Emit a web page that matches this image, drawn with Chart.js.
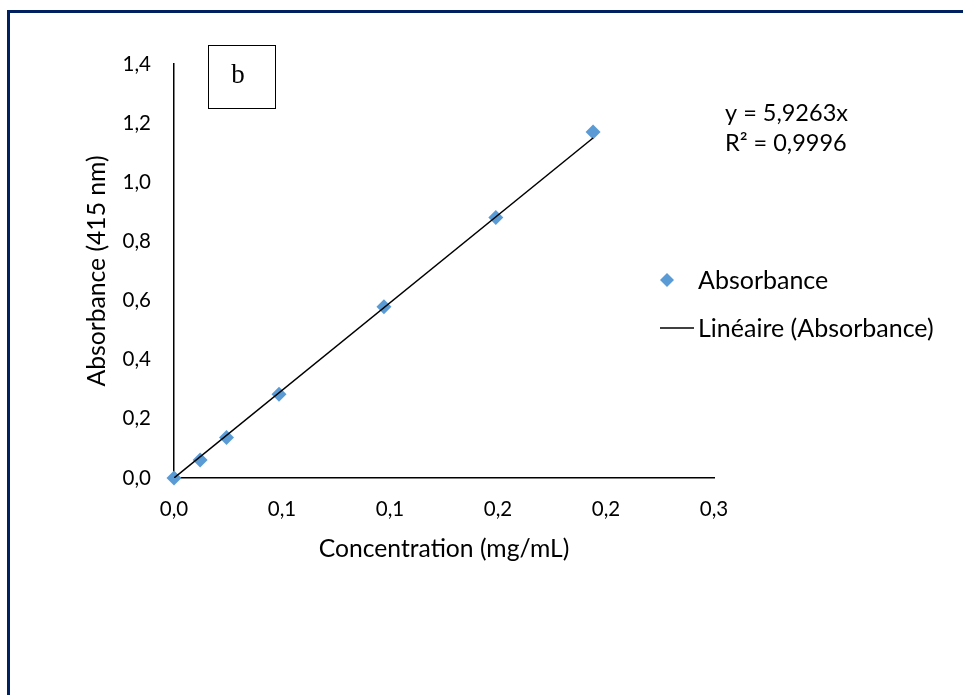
<!DOCTYPE html>
<html>
<head>
<meta charset="utf-8">
<title>Absorbance</title>
<script src="https://cdn.jsdelivr.net/npm/chart.js@4.4.1/dist/chart.umd.min.js"></script>
<style>
  html, body { margin: 0; padding: 0; background: #fff; }
  #wrap { width: 963px; height: 695px; }
</style>
</head>
<body>
<div id="wrap"><canvas id="absChart" width="963" height="695"></canvas></div>
<script>
// data
const concentration = [0, 0.0121, 0.0243, 0.0486, 0.0972, 0.149, 0.194];
const absorbance = [0, 0.061, 0.137, 0.283, 0.579, 0.881, 1.17];
const xTickLabels = ['0,0', '0,1', '0,1', '0,2', '0,2', '0,3'];
const yTickLabels = ['0,0', '0,2', '0,4', '0,6', '0,8', '1,0', '1,2', '1,4'];
const slope = 5.9263;
const rSquared = '0,9996';

const FONT = 'Lato, "Open Sans", sans-serif';
const BLUE = '#5B9BD5';

const points = concentration.map((c, i) => ({x: c, y: absorbance[i]}));
const lastX = concentration[concentration.length - 1];
const trend = [{x: 0, y: 0}, {x: lastX, y: slope * lastX}];

// extras: page frame, "b" box, equation and legend
const overlay = {
    id: 'overlay',
    afterDraw(chart) {
        const ctx = chart.ctx;
        ctx.save();
        // frame (top + left)
        ctx.fillStyle = '#002060';
        ctx.fillRect(7, 10, 963 - 7, 3);
        ctx.fillRect(7, 10, 3, 695 - 10);

        // "b" box
        ctx.strokeStyle = '#000';
        ctx.lineWidth = 1;
        ctx.strokeRect(208.5, 45.5, 67, 63);
        ctx.fillStyle = '#000';
        ctx.font = '27px "Liberation Serif", "DejaVu Serif", serif';
        ctx.textAlign = 'center';
        ctx.textBaseline = 'middle';
        ctx.fillText('b', 238, 76);

        // equation
        ctx.font = '23.5px ' + FONT;
        ctx.textAlign = 'left';
        ctx.fillText('y = ' + String(slope).replace('.', ',') + 'x', 725, 113);
        ctx.fillText('R² = ' + rSquared, 725, 143);

        // legend
        ctx.font = '25px ' + FONT;
        ctx.fillStyle = BLUE;
        ctx.beginPath();
        ctx.moveTo(667, 273);
        ctx.lineTo(674, 280);
        ctx.lineTo(667, 287);
        ctx.lineTo(660, 280);
        ctx.closePath();
        ctx.fill();
        ctx.fillStyle = '#000';
        ctx.fillText('Absorbance', 698, 281);
        ctx.strokeStyle = '#000';
        ctx.lineWidth = 1.3;
        ctx.beginPath();
        ctx.moveTo(660, 328);
        ctx.lineTo(694, 328);
        ctx.stroke();
        ctx.fillText('Linéaire (Absorbance)', 698, 329);
        ctx.restore();
    }
};

const ctx = document.getElementById('absChart').getContext('2d');
const absChart = new Chart(ctx, {
    type: 'scatter',
    data: {
        datasets: [{
            label: 'Absorbance',
            data: points,
            pointStyle: 'rectRot',
            pointRadius: 7.5,
            pointBorderWidth: 0,
            backgroundColor: BLUE,
            borderColor: BLUE,
            clip: false,
            order: 2
        }, {
            label: 'Linéaire (Absorbance)',
            type: 'line',
            data: trend,
            borderColor: '#000',
            borderWidth: 1.5,
            pointRadius: 0,
            fill: false,
            order: 1
        }]
    },
    options: {
        responsive: false,
        animation: false,
        layout: {
            padding: {left: 78, top: 64, right: 249, bottom: 127}
        },
        plugins: {
            legend: {display: false},
            tooltip: {enabled: false}
        },
        scales: {
            x: {
                type: 'linear',
                min: 0,
                max: 0.25,
                afterBuildTicks: (scale) => {
                    scale.ticks = xTickLabels.map((l, i) => ({value: i * 0.05}));
                },
                afterFit: (scale) => { scale.height = 90; },
                ticks: {
                    color: '#000',
                    font: {family: FONT, size: 20.5},
                    padding: 19,
                    maxRotation: 0,
                    callback: (v, i) => xTickLabels[i]
                },
                grid: {drawOnChartArea: false, drawTicks: false},
                border: {color: '#000', width: 1.5},
                title: {
                    display: true,
                    text: 'Concentration (mg/mL)',
                    color: '#000',
                    font: {family: FONT, size: 24.7},
                    padding: {top: 4, bottom: 4}
                }
            },
            y: {
                min: 0,
                max: 1.4,
                afterBuildTicks: (scale) => {
                    scale.ticks = yTickLabels.map((l, i) => ({value: i * 0.2}));
                },
                afterFit: (scale) => { scale.width = 96; },
                ticks: {
                    color: '#000',
                    font: {family: FONT, size: 20.5},
                    padding: 23,
                    callback: (v, i) => yTickLabels[i]
                },
                grid: {drawOnChartArea: false, drawTicks: false},
                border: {color: '#000', width: 1.5},
                title: {
                    display: true,
                    text: 'Absorbance (415 nm)',
                    color: '#000',
                    font: {family: FONT, size: 24.7},
                    padding: {top: 4, bottom: 4}
                }
            }
        }
    },
    plugins: [overlay]
});
</script>
</body>
</html>
